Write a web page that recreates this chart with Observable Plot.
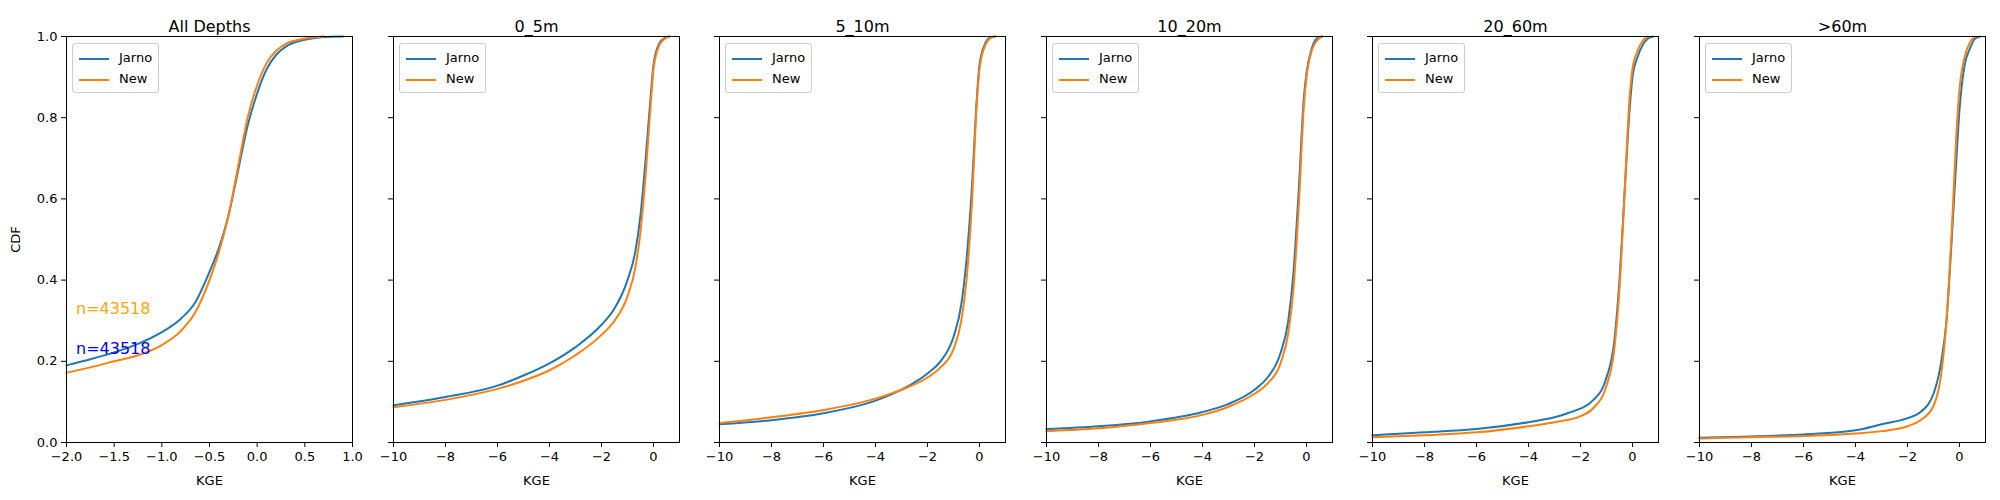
<!DOCTYPE html>
<html lang="en">
<head>
<meta charset="utf-8">
<title>KGE CDF by depth</title>
<script src="https://cdn.jsdelivr.net/npm/d3@7"></script>
<script src="https://cdn.jsdelivr.net/npm/@observablehq/plot@0.6"></script>
<style>
  body { margin: 0; background: #fff; font-family: "DejaVu Sans", sans-serif; }
  #graphic { position: relative; width: 2000px; height: 500px; }
  .panel { position: absolute; top: 0; }
  .legend { position: absolute; top: 43px; border: 1px solid #ccc; border-radius: 3px;
    background: rgba(255,255,255,0.8); padding: 3px 6px; font-size: 13px; line-height: 21px; }
  .legend span.sw { display: inline-block; width: 30px; height: 2px; vertical-align: middle; margin-right: 10px; }
</style>
</head>
<body>
<div id="graphic"></div>
<script>
  var titles = ["All Depths", "0_5m", "5_10m", "10_20m", "20_60m", ">60m"];

  var jarnoX = [
    [-2, -1.75, -1.5, -1.25, -1, -0.8, -0.65, -0.5, -0.4, -0.3, -0.2, -0.1, 0, 0.1, 0.2, 0.3, 0.5, 0.7, 0.9],
    [-10, -8, -6, -5, -4, -3, -2, -1.5, -1, -0.7, -0.5, -0.3, -0.1, 0, 0.2, 0.4, 0.6],
    [-10, -8, -6, -4, -3, -2, -1.5, -1, -0.7, -0.5, -0.3, -0.1, 0, 0.2, 0.4, 0.6],
    [-10, -8, -6, -4, -3, -2, -1.5, -1, -0.7, -0.5, -0.3, -0.1, 0, 0.2, 0.4, 0.6],
    [-10, -8, -6, -4, -3, -2.5, -1.5, -1, -0.7, -0.5, -0.3, -0.1, 0, 0.2, 0.4, 0.6, 0.8],
    [-10, -8, -6, -4, -3, -2, -1.5, -1, -0.7, -0.5, -0.3, -0.1, 0, 0.2, 0.4, 0.6, 0.8]
  ];
  var jarnoY = [
    [0.19, 0.205, 0.222, 0.243, 0.272, 0.305, 0.345, 0.42, 0.48, 0.56, 0.67, 0.78, 0.86, 0.92, 0.955, 0.975, 0.992, 0.999, 1],
    [0.092, 0.112, 0.14, 0.165, 0.195, 0.235, 0.29, 0.33, 0.4, 0.47, 0.56, 0.7, 0.86, 0.93, 0.98, 0.995, 1],
    [0.045, 0.055, 0.072, 0.103, 0.13, 0.17, 0.2, 0.26, 0.34, 0.45, 0.62, 0.85, 0.93, 0.98, 0.997, 1],
    [0.033, 0.04, 0.052, 0.075, 0.095, 0.13, 0.16, 0.22, 0.3, 0.42, 0.62, 0.85, 0.91, 0.97, 0.995, 1],
    [0.018, 0.025, 0.033, 0.05, 0.062, 0.072, 0.105, 0.16, 0.25, 0.4, 0.62, 0.83, 0.9, 0.95, 0.98, 0.995, 1],
    [0.012, 0.015, 0.02, 0.03, 0.045, 0.06, 0.075, 0.12, 0.2, 0.3, 0.5, 0.72, 0.82, 0.93, 0.97, 0.995, 1]
  ];
  var newX = [
    [-2, -1.75, -1.5, -1.25, -1, -0.8, -0.65, -0.5, -0.4, -0.3, -0.2, -0.1, 0, 0.1, 0.2, 0.3, 0.5, 0.7],
    [-10, -8, -6, -5, -4, -3, -2, -1.5, -1, -0.7, -0.5, -0.3, -0.1, 0, 0.2, 0.4, 0.6],
    [-10, -8, -6, -4, -3, -2, -1.5, -1, -0.7, -0.5, -0.3, -0.1, 0, 0.2, 0.4, 0.6],
    [-10, -8, -6, -4, -3, -2, -1.5, -1, -0.7, -0.5, -0.3, -0.1, 0, 0.2, 0.4, 0.6],
    [-10, -8, -6, -4, -3, -2, -1.5, -1, -0.7, -0.5, -0.3, -0.1, 0, 0.2, 0.4, 0.6],
    [-10, -8, -6, -4, -3, -2, -1.5, -1, -0.7, -0.5, -0.3, -0.1, 0, 0.2, 0.4, 0.6]
  ];
  var newY = [
    [0.172, 0.185, 0.2, 0.215, 0.24, 0.275, 0.32, 0.4, 0.47, 0.56, 0.68, 0.8, 0.88, 0.935, 0.965, 0.982, 0.995, 1],
    [0.087, 0.105, 0.132, 0.152, 0.178, 0.215, 0.265, 0.3, 0.36, 0.43, 0.52, 0.66, 0.84, 0.92, 0.975, 0.993, 1],
    [0.048, 0.062, 0.08, 0.108, 0.13, 0.16, 0.185, 0.23, 0.3, 0.4, 0.58, 0.84, 0.92, 0.975, 0.995, 1],
    [0.028, 0.035, 0.048, 0.068, 0.088, 0.12, 0.145, 0.195, 0.27, 0.38, 0.58, 0.83, 0.9, 0.965, 0.99, 1],
    [0.013, 0.018, 0.025, 0.04, 0.05, 0.065, 0.085, 0.14, 0.23, 0.38, 0.62, 0.86, 0.92, 0.965, 0.99, 1],
    [0.01, 0.013, 0.016, 0.022, 0.028, 0.04, 0.055, 0.09, 0.17, 0.3, 0.52, 0.78, 0.87, 0.95, 0.985, 1]
  ];
  var xDomains = [[-2, 1], [-10, 1], [-10, 1], [-10, 1], [-10, 1], [-10, 1]];
  var xTicks = [[-2, -1.5, -1, -0.5, 0, 0.5, 1], [-10, -8, -6, -4, -2, 0]];
  var yTicks = [0, 0.2, 0.4, 0.6, 0.8, 1];
  var nLabels = [{x: -1.9, y: 0.33, text: "n=43518", color: "orange"}, {x: -1.9, y: 0.23, text: "n=43518", color: "blue"}];

  var axisLefts = [66, 393, 719, 1046, 1372, 1699];
  var axisW = 286;
  var minus = s => s.replace("-", "\u2212");

  titles.forEach((t, i) => {
    var ml = i === 0 ? 66 : 20;
    var jarno = jarnoX[i].map((x, k) => ({x, y: jarnoY[i][k]}));
    var nw = newX[i].map((x, k) => ({x, y: newY[i][k]}));
    var marks = [
      Plot.line(jarno, {x: "x", y: "y", stroke: "#1f77b4", strokeWidth: 2, curve: "monotone-x"}),
      Plot.line(nw, {x: "x", y: "y", stroke: "#ff7f0e", strokeWidth: 2, curve: "monotone-x"}),
      Plot.frame({stroke: "black"}),
      Plot.text([t], {frameAnchor: "top", dy: -16, text: d => d, fontSize: 16, fill: "black"})
    ];
    if (i === 0) marks.push(Plot.text(nLabels, {x: "x", y: "y", text: "text", fill: "color", fontSize: 16, textAnchor: "start"}));
    var p = Plot.plot({
      width: ml + axisW + 15, height: 500,
      marginLeft: ml, marginRight: 15, marginTop: 36, marginBottom: 58,
      style: {fontSize: "13px", fontFamily: "DejaVu Sans, sans-serif", color: "black", overflow: "visible"},
      x: {domain: xDomains[i], ticks: i === 0 ? xTicks[0] : xTicks[1], label: "KGE", labelAnchor: "center", labelOffset: 42, labelArrow: "none",
          tickSize: 5, tickFormat: d => minus(i === 0 ? d3.format(".1f")(d) : String(d))},
      y: {domain: [0, 1], ticks: yTicks, label: i === 0 ? "CDF" : null, labelAnchor: "center", labelOffset: 56, labelArrow: "none",
          tickSize: 5, tickFormat: i === 0 ? d3.format(".1f") : () => ""},
      marks
    });
    var div = document.createElement("div");
    div.className = "panel";
    div.style.left = (axisLefts[i] - ml) + "px";
    div.appendChild(p);
    document.getElementById("graphic").appendChild(div);

    var lg = document.createElement("div");
    lg.className = "legend";
    lg.style.left = (axisLefts[i] + 6) + "px";
    lg.innerHTML = '<div><span class="sw" style="background:#1f77b4"></span>Jarno</div>' +
      '<div><span class="sw" style="background:#ff7f0e"></span>New</div>';
    document.getElementById("graphic").appendChild(lg);
  });
</script>
</body>
</html>
